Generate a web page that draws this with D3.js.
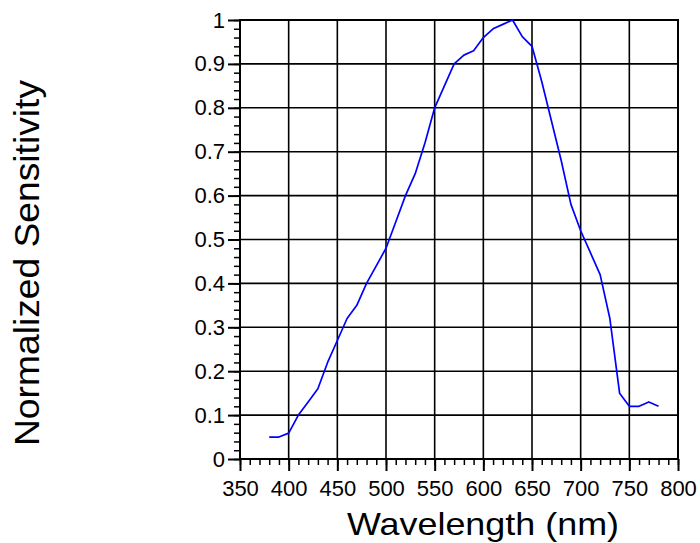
<!DOCTYPE html>
<html>
<head>
<meta charset="utf-8">
<script src="https://cdn.jsdelivr.net/npm/d3@7"></script>
<style>
  html, body { margin: 0; padding: 0; background: #fff; }
  svg { display: block; }
  text { font-family: "Liberation Sans", Arial, sans-serif; fill: #000; }
</style>
</head>
<body>
<svg id="chart" width="700" height="543"></svg>
<script>
// ---- data ----
const wavelengths = [380, 390, 400, 410, 420, 430, 440, 450, 460, 470, 480, 490, 500, 510, 520, 530, 540, 550, 560, 570, 580, 590, 600, 610, 620, 630, 640, 650, 660, 670, 680, 690, 700, 710, 720, 730, 740, 750, 760, 770, 780];
const sensitivity = [0.05, 0.05, 0.059, 0.10, 0.13, 0.16, 0.22, 0.27, 0.32, 0.35, 0.40, 0.44, 0.48, 0.54, 0.60, 0.65, 0.72, 0.80, 0.85, 0.90, 0.92, 0.93, 0.96, 0.98, 0.99, 1.00, 0.962, 0.94, 0.86, 0.77, 0.68, 0.58, 0.52, 0.47, 0.42, 0.32, 0.15, 0.12, 0.12, 0.13, 0.12];
const xTickValues = [350, 400, 450, 500, 550, 600, 650, 700, 750, 800];
const xTickLabels = ["350", "400", "450", "500", "550", "600", "650", "700", "750", "800"];
const yTickValues = [0, 0.1, 0.2, 0.3, 0.4, 0.5, 0.6, 0.7, 0.8, 0.9, 1];
const yTickLabels = ["0", "0.1", "0.2", "0.3", "0.4", "0.5", "0.6", "0.7", "0.8", "0.9", "1"];
const xTitle = "Wavelength (nm)";
const yTitle = "Normalized Sensitivity";

(function () {
// ---- layout ----
const pL = 240, pR = 678, pT = 20, pB = 459;
const svg = d3.select("#chart");
const x = d3.scaleLinear().domain([350, 800]).range([pL, pR]);
const y = d3.scaleLinear().domain([0, 1]).range([pB, pT]);

const xMinor = d3.range(350, 801, 10);
const yMinor = d3.range(0, 51).map(i => i * 0.02);

// grid
const grid = svg.append("g").attr("stroke", "#000").attr("stroke-width", 1.6);
grid.selectAll("line.vx").data(xTickValues).join("line")
  .attr("x1", d => x(d)).attr("x2", d => x(d))
  .attr("y1", pT).attr("y2", pB);
grid.selectAll("line.hy").data(yTickValues).join("line")
  .attr("x1", pL).attr("x2", pR)
  .attr("y1", d => y(d)).attr("y2", d => y(d));

// frame
svg.append("rect")
  .attr("x", pL).attr("y", pT)
  .attr("width", pR - pL).attr("height", pB - pT)
  .attr("fill", "none").attr("stroke", "#000").attr("stroke-width", 2);

// x axis minor
const gxMinor = svg.append("g").attr("transform", `translate(0,${pB})`)
  .call(d3.axisBottom(x).tickValues(xMinor).tickSize(6).tickFormat(""));
gxMinor.select(".domain").remove();
gxMinor.selectAll("line").attr("stroke-width", 1.5);

// x axis major
const gx = svg.append("g").attr("transform", `translate(0,${pB})`)
  .call(d3.axisBottom(x).tickValues(xTickValues).tickSize(12).tickPadding(9)
    .tickFormat((d, i) => xTickLabels[i]));
gx.select(".domain").remove();
gx.selectAll("line").attr("stroke-width", 2);
gx.selectAll("text").attr("font-size", 22).attr("font-family", "Liberation Sans, Arial, sans-serif").attr("fill", "#000");

// y axis minor
const gyMinor = svg.append("g").attr("transform", `translate(${pL},0)`)
  .call(d3.axisLeft(y).tickValues(yMinor).tickSize(6).tickFormat(""));
gyMinor.select(".domain").remove();
gyMinor.selectAll("line").attr("stroke-width", 1.5);

// y axis major
const gy = svg.append("g").attr("transform", `translate(${pL},0)`)
  .call(d3.axisLeft(y).tickValues(yTickValues).tickSize(12).tickPadding(3)
    .tickFormat((d, i) => yTickLabels[i]));
gy.select(".domain").remove();
gy.selectAll("line").attr("stroke-width", 2);
gy.selectAll("text").attr("font-size", 22).attr("font-family", "Liberation Sans, Arial, sans-serif").attr("fill", "#000");

// data line
const pts = wavelengths.map((w, i) => [w, sensitivity[i]]);
svg.append("path")
  .datum(pts)
  .attr("fill", "none")
  .attr("stroke", "#0000ff")
  .attr("stroke-width", 1.7)
  .attr("stroke-linejoin", "round")
  .attr("d", d3.line().x(d => x(d[0])).y(d => y(d[1])));

// titles
svg.append("text")
  .attr("x", 483).attr("y", 535)
  .attr("text-anchor", "middle")
  .attr("font-size", 32)
  .attr("textLength", 272).attr("lengthAdjust", "spacingAndGlyphs")
  .text(xTitle);

svg.append("text")
  .attr("transform", "translate(39,263) rotate(-90)")
  .attr("text-anchor", "middle")
  .attr("font-size", 35)
  .attr("textLength", 366).attr("lengthAdjust", "spacingAndGlyphs")
  .text(yTitle);
})();
</script>
</body>
</html>
